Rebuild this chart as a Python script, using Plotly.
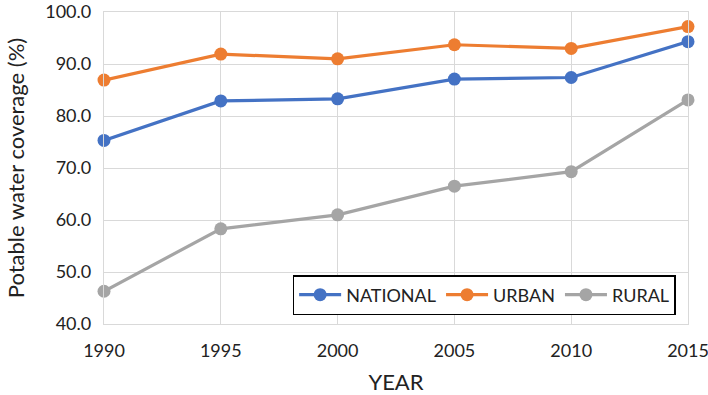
import plotly.graph_objects as go

years = [1990, 1995, 2000, 2005, 2010, 2015]
national = [75.3, 82.9, 83.3, 87.1, 87.4, 94.3]
urban = [86.9, 91.9, 91.0, 93.7, 93.0, 97.2]
rural = [46.3, 58.3, 61.0, 66.5, 69.3, 83.1]

series = [("NATIONAL", national, "#4472C4"), ("URBAN", urban, "#ED7D31"), ("RURAL", rural, "#A5A5A5")]

fig = go.Figure()
for name, vals, col in series:
    fig.add_trace(go.Scatter(x=years, y=vals, name=name, mode="lines+markers",
                             line=dict(color=col, width=3.2),
                             marker=dict(color=col, size=13),
                             cliponaxis=False))

FONT = "Lato"
fig.update_layout(
    width=708, height=395,
    margin=dict(l=104, r=20, t=12, b=71, autoexpand=False),
    paper_bgcolor="white", plot_bgcolor="white",
    font=dict(family=FONT, size=18, color="#222222"),
    showlegend=True,
    legend=dict(orientation="h", x=0.323, y=0.157, xanchor="left", yanchor="top",
                bordercolor="black", borderwidth=1.5, bgcolor="white",
                font=dict(size=18), itemwidth=42, tracegroupgap=0),
    xaxis=dict(range=[1990, 2015], tickvals=years, ticktext=[str(y) for y in years],
               showgrid=True, gridcolor="#d9d9d9", gridwidth=1.3,
               showline=True, mirror=True, linecolor="#d9d9d9", linewidth=1.3,
               zeroline=False, ticks="", ticklabelstandoff=10, automargin=False,
               ticklabeloverflow="allow",
               title=dict(text="YEAR", standoff=18)),
    yaxis=dict(range=[40, 100], dtick=10, tickformat=".1f",
               showgrid=True, gridcolor="#d9d9d9", gridwidth=1.3,
               showline=True, mirror=True, linecolor="#d9d9d9", linewidth=1.3,
               zeroline=False, ticks="", ticklabelstandoff=8, automargin=False,
               ticklabeloverflow="allow",
               title=dict(text="Potable water coverage (%)", standoff=14)),
)
fig.write_html("out.html", config={"displayModeBar": False},
               post_script="document.body.style.margin='0';")
